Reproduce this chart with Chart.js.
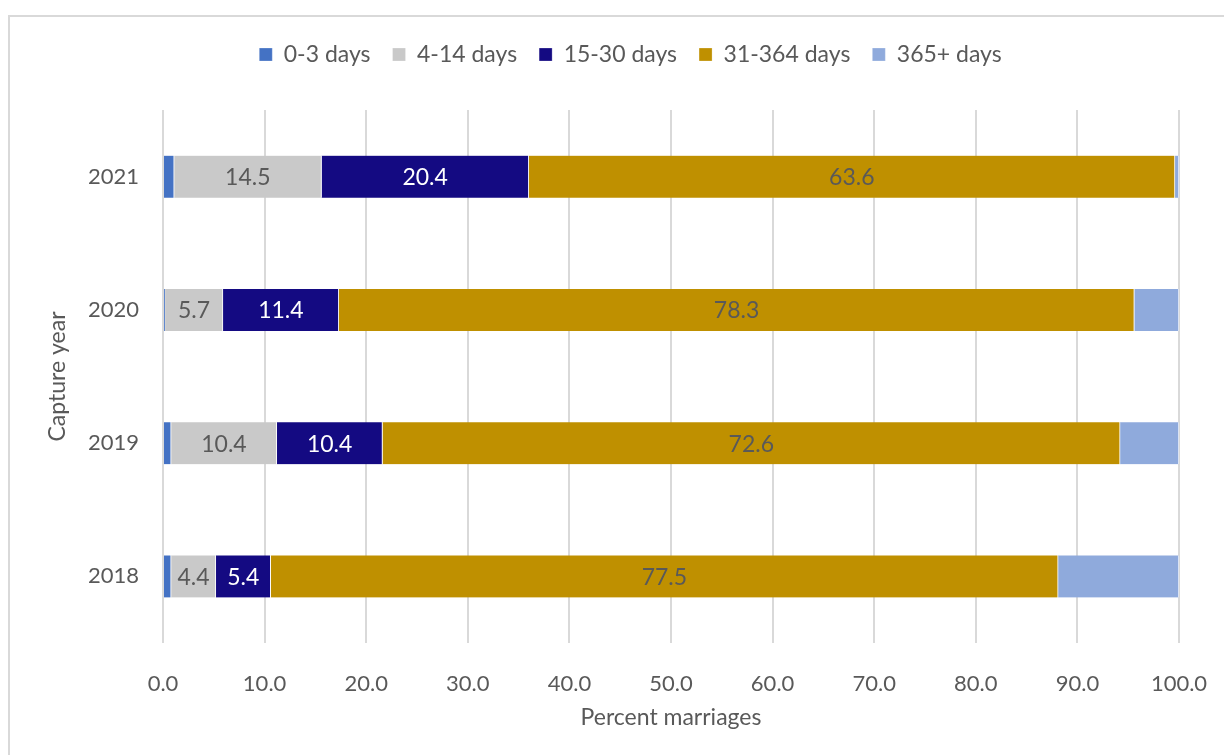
<!DOCTYPE html>
<html>
<head>
<meta charset="utf-8">
<script src="https://cdn.jsdelivr.net/npm/chart.js@4.4.1/dist/chart.umd.min.js"></script>
<style>
  html, body { margin: 0; padding: 0; background: #fff; }
  #wrap { position: relative; width: 1224px; height: 755px; overflow: hidden; }
  #frame { position: absolute; left: 8px; top: 15px; width: 1300px; height: 800px;
           border-left: 2px solid #d9d9d9; border-top: 2px solid #d9d9d9; }
  canvas { position: absolute; left: 0; top: 0; }
</style>
</head>
<body>
<div id="wrap">
  <div id="frame"></div>
  <canvas id="chart" width="1224" height="755"></canvas>
</div>
<script>
var years = ['2021', '2020', '2019', '2018'];
var seriesNames = ['0-3 days', '4-14 days', '15-30 days', '31-364 days', '365+ days'];
var days0to3 = [1.1, 0.2, 0.8, 0.8];
var days4to14 = [14.5, 5.7, 10.4, 4.4];
var days15to30 = [20.4, 11.4, 10.4, 5.4];
var days31to364 = [63.6, 78.3, 72.6, 77.5];
var days365plus = [0.4, 4.4, 5.8, 11.9];
var xTicks = [0, 10, 20, 30, 40, 50, 60, 70, 80, 90, 100];

var colors = ['#4472c4', '#c9c9c9', '#140a82', '#bf9000', '#8faadc'];
var labelColors = [null, '#595959', '#ffffff', '#595959', null];
var textGrey = '#595959';
var fontFamily = 'Lato, "Open Sans", sans-serif';

Chart.defaults.font.family = fontFamily;
Chart.defaults.color = textGrey;

// value labels centred in the segments that carry them
var segmentLabels = {
  id: 'segmentLabels',
  afterDatasetsDraw: function(chart) {
    var ctx = chart.ctx;
    ctx.save();
    ctx.font = '23px ' + fontFamily;
    ctx.textAlign = 'center';
    ctx.textBaseline = 'middle';
    chart.data.datasets.forEach(function(ds, i) {
      if (!labelColors[i]) return;
      var meta = chart.getDatasetMeta(i);
      meta.data.forEach(function(bar, j) {
        var v = ds.data[j];
        var p = bar.getProps(['x', 'y', 'base'], true);
        ctx.fillStyle = labelColors[i];
        ctx.fillText(v.toFixed(1), (p.x + p.base) / 2, p.y + 1);
      });
    });
    ctx.restore();
  }
};

// extra room under the legend row, and centre it on the whole frame
var legendGap = {
  id: 'legendGap',
  beforeInit: function(chart) {
    var legend = chart.legend;
    var fit = legend.fit;
    var draw = legend.draw;
    legend.fit = function() {
      fit.call(this);
      this.height += 34;
    };
    legend.draw = function() {
      var ctx = this.ctx;
      ctx.save();
      ctx.translate(21, 0);
      draw.call(this);
      ctx.restore();
    };
  }
};

var allData = [days0to3, days4to14, days15to30, days31to364, days365plus];

new Chart(document.getElementById('chart'), {
  type: 'bar',
  data: {
    labels: years,
    datasets: seriesNames.map(function(name, i) {
      return {
        label: name,
        data: allData[i],
        backgroundColor: colors[i],
        borderColor: '#ffffff',
        borderWidth: { left: 0, right: 1, top: 0, bottom: 0 },
        borderSkipped: false,
        barThickness: 42
      };
    })
  },
  plugins: [segmentLabels, legendGap],
  options: {
    indexAxis: 'y',
    responsive: false,
    animation: false,
    layout: { padding: { left: 40, right: 45, top: 21, bottom: 20 } },
    plugins: {
      tooltip: { enabled: false },
      legend: {
        position: 'top',
        labels: {
          font: { size: 23 },
          color: textGrey,
          boxWidth: 13,
          boxHeight: 13,
          padding: 22
        }
      }
    },
    scales: {
      x: {
        stacked: true,
        min: 0,
        max: 100,
        afterBuildTicks: function(scale) {
          scale.ticks = xTicks.map(function(v) { return { value: v }; });
        },
        grid: { color: '#d9d9d9', lineWidth: 2, drawTicks: false },
        border: { display: false },
        ticks: {
          font: { size: 22 },
          color: textGrey,
          padding: 28,
          callback: function(v) { return Number(v).toFixed(1); }
        },
        title: {
          display: true,
          text: 'Percent marriages',
          font: { size: 23 },
          color: textGrey,
          padding: { top: 6 }
        },
        afterFit: function(scale) {
          scale.height = 92;
          scale.paddingLeft = 0;
          scale.paddingRight = 0;
        }
      },
      y: {
        stacked: true,
        grid: { display: false, drawTicks: false },
        border: { display: false },
        ticks: { font: { size: 22 }, color: textGrey, padding: 24 },
        title: {
          display: true,
          text: 'Capture year',
          font: { size: 23 },
          color: textGrey
        },
        afterFit: function(scale) { scale.width = 123; }
      }
    }
  }
});
</script>
</body>
</html>
